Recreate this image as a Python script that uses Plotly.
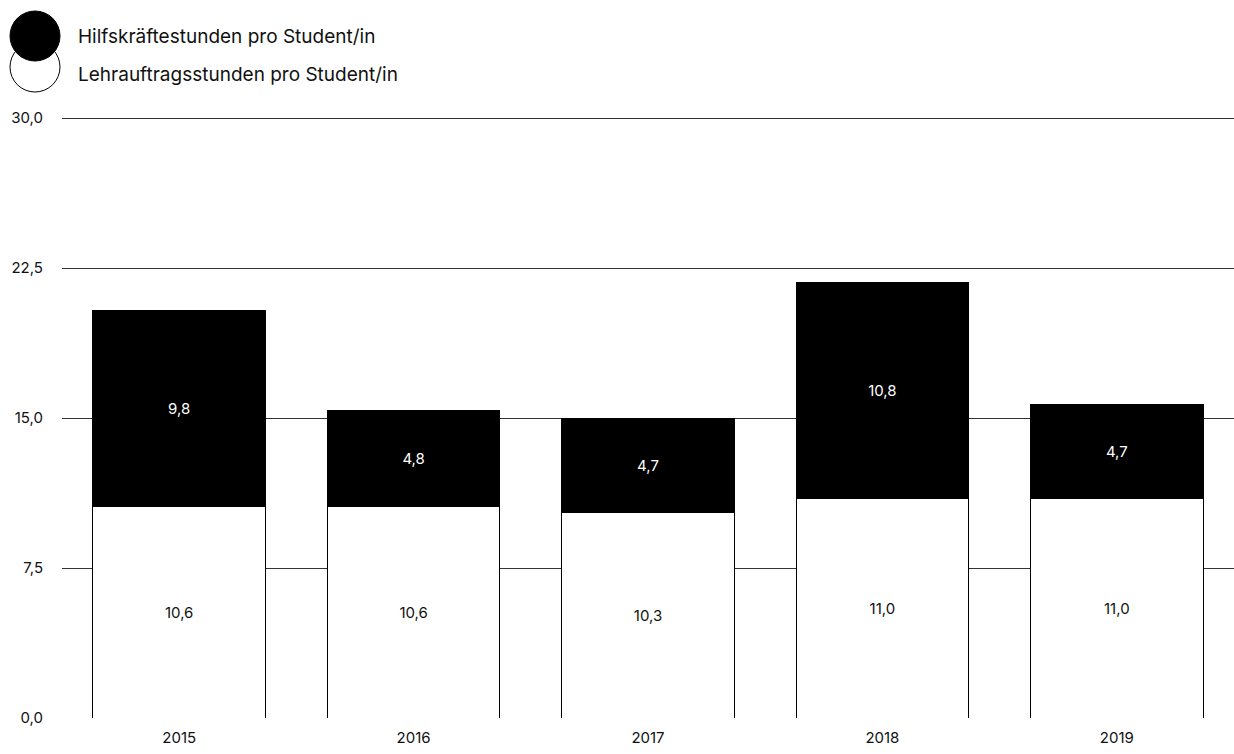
import plotly.graph_objects as go

years = ["2015", "2016", "2017", "2018", "2019"]
lehrauftrag = [10.6, 10.6, 10.3, 11.0, 11.0]
hilfskraft = [9.8, 4.8, 4.7, 10.8, 4.7]
series_names = ["Hilfskräftestunden pro Student/in", "Lehrauftragsstunden pro Student/in"]
y_ticks = [0, 7.5, 15, 22.5, 30]

FONT = "Inter, Roboto, sans-serif"
W, H = 1234, 754
ML, MR, MT, MB = 62, 0, 116, 36
PW, PH = W - ML - MR, H - MT - MB
Y_MAX = 30.1

def fmt(v):
    return f"{v:.1f}".replace(".", ",")

fig = go.Figure()
fig.add_trace(go.Bar(
    x=years, y=lehrauftrag, name=series_names[1],
    marker=dict(color="white", line=dict(color="black", width=1)),
    text=[fmt(v) for v in lehrauftrag], textposition="inside",
    insidetextanchor="middle",
    textfont=dict(color="#111", size=15, family=FONT),
))
fig.add_trace(go.Bar(
    x=years, y=hilfskraft, name=series_names[0],
    marker=dict(color="black", line=dict(color="black", width=1)),
    text=[fmt(v) for v in hilfskraft], textposition="inside",
    insidetextanchor="middle",
    textfont=dict(color="white", size=15, family=FONT),
))

def px_x(p):
    return (p - ML) / PW

def px_y(p):
    return (H - MB - p) / PH

shapes = [
    dict(type="circle", xref="paper", yref="paper",
         x0=px_x(10), x1=px_x(60), y0=px_y(92), y1=px_y(42),
         fillcolor="white", line=dict(color="black", width=1), layer="above"),
    dict(type="circle", xref="paper", yref="paper",
         x0=px_x(10), x1=px_x(60), y0=px_y(61), y1=px_y(11),
         fillcolor="black", line=dict(color="black", width=1), layer="above"),
]
annotations = [
    dict(text=series_names[0], xref="paper", yref="paper", x=px_x(76), y=px_y(36),
         xanchor="left", yanchor="middle", showarrow=False,
         font=dict(family=FONT, size=19, color="#111")),
    dict(text=series_names[1], xref="paper", yref="paper", x=px_x(76), y=px_y(74),
         xanchor="left", yanchor="middle", showarrow=False,
         font=dict(family=FONT, size=19, color="#111")),
]

fig.update_layout(
    width=W, height=H,
    margin=dict(l=ML, r=MR, t=MT, b=MB, pad=0),
    barmode="stack", bargap=0.264,
    plot_bgcolor="white", paper_bgcolor="white",
    separators=",.",
    showlegend=False,
    font=dict(family=FONT, size=15, color="#111"),
    shapes=shapes, annotations=annotations,
    uniformtext=dict(mode="show", minsize=15),
)
fig.update_xaxes(showgrid=False, showline=False, ticks="", tickfont=dict(size=15),
                 ticklabelstandoff=9)
fig.update_yaxes(range=[0, Y_MAX], tickvals=y_ticks, tickformat=".1f",
                 showgrid=True, gridcolor="#333", gridwidth=1,
                 zeroline=True, zerolinecolor="white", zerolinewidth=2,
                 showline=False, ticks="", ticklabelstandoff=18,
                 tickfont=dict(size=15))

fig.write_html("out.html", config={"displayModeBar": False},
               post_script="document.body.style.margin='0';document.body.style.overflow='hidden';")
